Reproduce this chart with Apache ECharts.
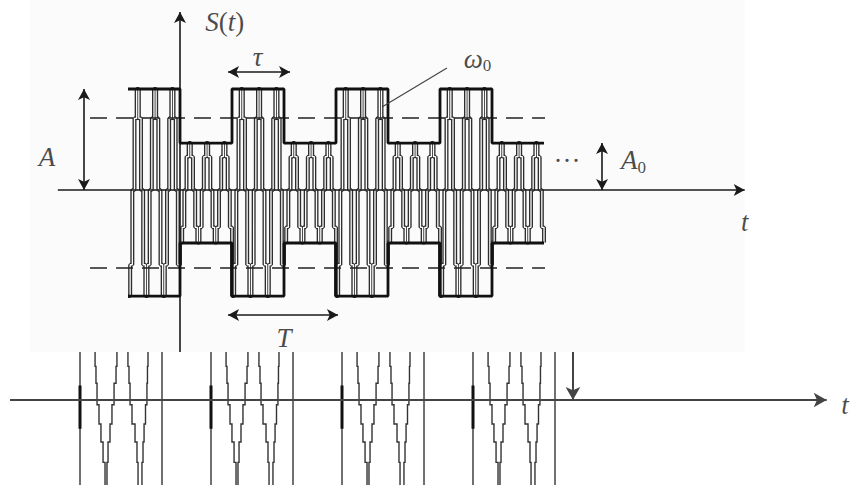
<!DOCTYPE html>
<html><head><meta charset="utf-8">
<script src="https://cdn.jsdelivr.net/npm/echarts@6/dist/echarts.min.js"></script>
<style>html,body{margin:0;padding:0;background:#fff}#c{width:851px;height:485px}</style>
</head><body><div id="c"></div>
<script>
// ---------- Upper diagram: t in units of period T, S in units of amplitude A ----------
const sampleStart = -0.5;      // first carrier sample (t)
const samplesPerT = 48;        // carrier samples per period T
// staircase carrier S(t), read row by row (8 samples = one carrier cycle, 6 cycles per T)
const carrierValues = [
  // pulse  t in [-0.5, 0)
  -1.05,-0.74,0,0.71,1,0.71,0,-0.74,  -1.05,-0.74,0,0.71,1,0.71,0,-0.74,  -1.05,-0.74,0,0.71,1,0.71,0,-0.74,
  // pause  t in [0, 0.5)
  -0.52,-0.37,0,0.33,0.465,0.33,0,-0.37,  -0.52,-0.37,0,0.33,0.465,0.33,0,-0.37,  -0.52,-0.37,0,0.33,0.465,0.33,0,-0.37,
  // pulse  t in [0.5, 1)
  -1.05,-0.74,0,0.71,1,0.71,0,-0.74,  -1.05,-0.74,0,0.71,1,0.71,0,-0.74,  -1.05,-0.74,0,0.71,1,0.71,0,-0.74,
  // pause  t in [1, 1.5)
  -0.52,-0.37,0,0.33,0.465,0.33,0,-0.37,  -0.52,-0.37,0,0.33,0.465,0.33,0,-0.37,  -0.52,-0.37,0,0.33,0.465,0.33,0,-0.37,
  // pulse  t in [1.5, 2)
  -1.05,-0.74,0,0.71,1,0.71,0,-0.74,  -1.05,-0.74,0,0.71,1,0.71,0,-0.74,  -1.05,-0.74,0,0.71,1,0.71,0,-0.74,
  // pause  t in [2, 2.5)
  -0.52,-0.37,0,0.33,0.465,0.33,0,-0.37,  -0.52,-0.37,0,0.33,0.465,0.33,0,-0.37,  -0.52,-0.37,0,0.33,0.465,0.33,0,-0.37,
  // pulse  t in [2.5, 3)
  -1.05,-0.74,0,0.71,1,0.71,0,-0.74,  -1.05,-0.74,0,0.71,1,0.71,0,-0.74,  -1.05,-0.74,0,0.71,1,0.71,0,-0.74,
  // pause  t in [3, 3.5)
  -0.52,-0.37,0,0.33,0.465,0.33,0,-0.37,  -0.52,-0.37,0,0.33,0.465,0.33,0,-0.37,  -0.52,-0.37,0,0.33,0.465,0.33,0,-0.37,
  -0.52
];
const upperEnvelope = [[-0.5,1],[0,1],[0,0.465],[0.5,0.465],[0.5,1],[1,1],[1,0.465],[1.5,0.465],
  [1.5,1],[2,1],[2,0.465],[2.5,0.465],[2.5,1],[3,1],[3,0.465],[3.5,0.465]];
const lowerEnvelope = [[-0.5,-1.05],[0,-1.05],[0,-0.525],[0.5,-0.525],[0.5,-1.05],[1,-1.05],[1,-0.525],[1.5,-0.525],
  [1.5,-1.05],[2,-1.05],[2,-0.525],[2.5,-0.525],[2.5,-1.05],[3,-1.05],[3,-0.525],[3.5,-0.525]];
const dashLevels = [0.713, -0.772];
const dashRange = [-0.865, 3.51];

// ---------- Lower diagram: u in units of burst spacing, v relative to axis ----------
const burstStarts = [0, 1, 2, 3];
// each line: x offset on each stair segment, top to bottom
const burstLines = [
  [0, 0, 0, 0, 0, 0, 0],
  [0.115, 0.122, 0.130, 0.145, 0.160, 0.176, 0.191],
  [0.282, 0.275, 0.260, 0.244, 0.229, 0.214, 0.206],
  [0.366, 0.374, 0.382, 0.397, 0.420, 0.435, 0.443],
  [0.519, 0.515, 0.511, 0.500, 0.489, 0.481, 0.473],
  [0.626, 0.626, 0.626, 0.626, 0.626, 0.626, 0.626]
];
const stairLevels = [1, 0.7, 0.35, -0.1, -0.5, -0.875, -1.3, -1.77];
const thickSpan = [0.3, -0.6];   // darker part of first line in each burst

const serif = 'Liberation Serif';
const ink = '#1a1a1a';
const bg = '#fbfbfb';

const carrierData = carrierValues.map((v, i) => [sampleStart + i / samplesPerT, v]);

const burstPolylines = [];
const burstThick = [];
burstStarts.forEach(b => {
  burstLines.forEach(o => {
    const coords = [];
    o.forEach((dx, k) => {
      coords.push([b + dx, stairLevels[k]]);
      coords.push([b + dx, stairLevels[k + 1]]);
    });
    burstPolylines.push({coords});
  });
  burstThick.push({coords: [[b + burstLines[0][0], thickSpan[0]], [b + burstLines[0][0], thickSpan[1]]]});
});

function arrowPair(a, b, both) {
  return [{coord: a, symbol: both ? 'arrow' : 'none'}, {coord: b, symbol: 'arrow'}];
}

const labels = [
  {value: [0.43, 1.663], text: '{i|S}{n|(}{i|t}{n|)}'},
  {value: [0.745, 1.317], text: '{i|τ}'},
  {value: [-1.279, 0.327], text: '{i|A}'},
  {value: [2.86, 1.30], text: '{i|ω}{s|0}'},
  {value: [3.72, 0.29], text: '{n|···}'},
  {value: [4.36, 0.297], text: '{i|A}{s|0}'},
  {value: [5.43, -0.317], text: '{i|t}'},
  {value: [1.0, -1.465], text: '{i|T}'}
];

const richStyles = {
  i: {fontFamily: serif, fontStyle: 'italic', fontSize: 27, color: ink},
  n: {fontFamily: serif, fontSize: 27, color: ink},
  s: {fontFamily: serif, fontSize: 17, color: ink, padding: [14, 0, 0, 0]}
};
const labelBase = {show: true, position: 'inside', align: 'center', verticalAlign: 'middle',
  fontFamily: serif, fontSize: 27, color: ink, rich: richStyles};

const chart = echarts.init(document.getElementById('c'), null, {renderer: 'svg'});
chart.setOption({
  animation: false,
  backgroundColor: '#fff',
  grid: [
    {left: 30, top: 0, width: 715, height: 352, show: true, backgroundColor: bg, borderWidth: 0},
    {left: 0, top: 352, width: 851, height: 133}
  ],
  xAxis: [
    {type: 'value', gridIndex: 0, min: -1.4423, max: 5.4327, show: false},
    {type: 'value', gridIndex: 1, min: -0.6107, max: 5.8855, show: false}
  ],
  yAxis: [
    {type: 'value', gridIndex: 0, min: -1.604, max: 1.8812, show: false},
    {type: 'value', gridIndex: 1, min: -1.7708, max: 1, show: false}
  ],
  series: [
    // carrier: hollow double stroke
    {type: 'line', xAxisIndex: 0, yAxisIndex: 0, data: carrierData, step: 'end', symbol: 'none',
      lineStyle: {color: '#2e2e2e', width: 4}, z: 2, silent: true},
    {type: 'line', xAxisIndex: 0, yAxisIndex: 0, data: carrierData, step: 'end', symbol: 'none',
      lineStyle: {color: bg, width: 1.3}, z: 3, silent: true},
    // dashed levels
    ...dashLevels.map(lv => ({type: 'line', xAxisIndex: 0, yAxisIndex: 0, symbol: 'none',
      data: [[dashRange[0], lv], [dashRange[1], lv]],
      lineStyle: {color: '#222', width: 1.6, type: [17, 9]}, z: 4, silent: true})),
    // envelopes
    {type: 'line', xAxisIndex: 0, yAxisIndex: 0, data: upperEnvelope, symbol: 'none',
      lineStyle: {color: '#111', width: 2.8}, z: 5, silent: true},
    {type: 'line', xAxisIndex: 0, yAxisIndex: 0, data: lowerEnvelope, symbol: 'none',
      lineStyle: {color: '#111', width: 2.8}, z: 5, silent: true},
    // axes and annotation arrows (upper)
    {type: 'line', xAxisIndex: 0, yAxisIndex: 0, data: [], z: 6, silent: true,
      markLine: {silent: true, symbolSize: [9, 11], label: {show: false}, animation: false,
        lineStyle: {color: ink, width: 1.6, type: 'solid'},
        data: [
          arrowPair([-1.175, 0], [5.43, 0], false),
          arrowPair([0, -1.604], [0, 1.762], false),
          arrowPair([-0.923, 0], [-0.923, 1.0], true),
          arrowPair([0.462, 1.168], [1.058, 1.168], true),
          arrowPair([0.462, -1.238], [1.519, -1.238], true),
          arrowPair([4.058, 0], [4.058, 0.465], true)
        ]}},
    {type: 'line', xAxisIndex: 0, yAxisIndex: 0, symbol: 'none', data: [[2.567, 1.208], [1.942, 0.822]],
      lineStyle: {color: '#444', width: 1.2}, z: 6, silent: true},
    // labels
    {type: 'scatter', xAxisIndex: 0, yAxisIndex: 0, symbolSize: 1, clip: false, silent: true,
      itemStyle: {color: 'rgba(0,0,0,0)'}, z: 7,
      data: labels.map(l => ({value: l.value, label: {formatter: l.text}})),
      label: labelBase},
    // lower diagram
    {type: 'lines', coordinateSystem: 'cartesian2d', xAxisIndex: 1, yAxisIndex: 1, polyline: true,
      data: burstPolylines, lineStyle: {color: '#333', width: 1.4, opacity: 1}, z: 2, silent: true},
    {type: 'lines', coordinateSystem: 'cartesian2d', xAxisIndex: 1, yAxisIndex: 1, polyline: true,
      data: burstThick, lineStyle: {color: '#111', width: 3, opacity: 1}, z: 3, silent: true},
    {type: 'line', xAxisIndex: 1, yAxisIndex: 1, data: [], z: 6, silent: true,
      markLine: {silent: true, symbolSize: [11, 13], label: {show: false}, animation: false,
        lineStyle: {color: '#444', width: 2, type: 'solid'},
        data: [
          arrowPair([-0.534, 0], [5.70, 0], false),
          arrowPair([3.763, 1], [3.763, 0], false)
        ]}},
    {type: 'scatter', xAxisIndex: 1, yAxisIndex: 1, symbolSize: 1, clip: false, silent: true,
      itemStyle: {color: 'rgba(0,0,0,0)'}, z: 7,
      data: [{value: [5.84, -0.104], label: {formatter: '{i|t}'}}],
      label: labelBase}
  ]
});
</script></body></html>
